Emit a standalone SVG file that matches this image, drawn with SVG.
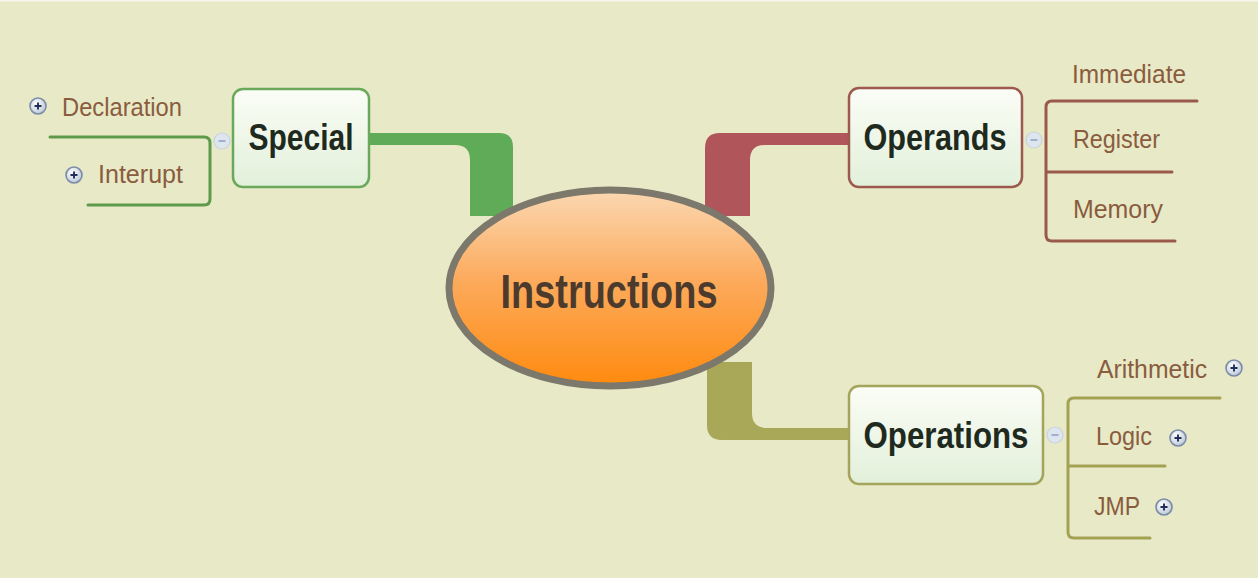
<svg xmlns="http://www.w3.org/2000/svg" width="1258" height="578" viewBox="0 0 1258 578">
  <defs>
    <linearGradient id="coreFill" x1="0" y1="0" x2="0" y2="1">
      <stop offset="0" stop-color="#fbd8b2"/>
      <stop offset="0.45" stop-color="#fcab5e"/>
      <stop offset="1" stop-color="#ff8a0e"/>
    </linearGradient>
    <linearGradient id="boxFill" x1="0" y1="0" x2="0" y2="1">
      <stop offset="0" stop-color="#fbfdf6"/>
      <stop offset="1" stop-color="#e2f0da"/>
    </linearGradient>
    <radialGradient id="plusFill" cx="0.4" cy="0.35" r="0.7">
      <stop offset="0" stop-color="#ffffff"/>
      <stop offset="1" stop-color="#b9c6d6"/>
    </radialGradient>
    <g id="plus">
      <circle r="8" fill="url(#plusFill)" stroke="#7b8ca6" stroke-width="1.6"/>
      <path d="M-3.5,0 H3.5 M0,-3.5 V3.5" stroke="#1f2f5a" stroke-width="1.9"/>
    </g>
    <g id="minus">
      <circle r="8" fill="#dde6f4" stroke="#c3d0e6" stroke-width="1.2" opacity="0.85"/>
      <path d="M-3.5,0 H3.5" stroke="#8ea2c8" stroke-width="1.6"/>
    </g>
  </defs>
  <style>
    .bg { fill: #e8e9c7; }
    .topic { font-family: "Liberation Sans", Arial, sans-serif; font-weight: bold; font-size: 37px; fill: #1f2a1f; }
    .core { font-family: "Liberation Sans", Arial, sans-serif; font-weight: bold; font-size: 49px; fill: #4c3b2c; }
    .sub { font-family: "Liberation Sans", Arial, sans-serif; font-size: 26px; fill: #8a5c3e; }
    .box { fill: url(#boxFill); stroke-width: 2.5; }
    .line { fill: none; stroke-width: 3; stroke-linecap: round; stroke-linejoin: round; }
  </style>

  <rect class="bg" x="0" y="0" width="1258" height="578"/>
  <rect x="0" y="0" width="1258" height="1.5" fill="#f6f6ea"/>

  <!-- main branches from the central topic -->
  <g id="connectors">
    <path d="M369,133 H499 Q513,133 513,147 V216 H470 V160 Q470,145 455,145 H369 Z" fill="#5fab57"/>
    <path d="M849,133 H720 Q705,133 705,148 V216 H750 V160 Q750,145 765,145 H849 Z" fill="#b0555a"/>
    <path d="M707,362 H752 V413 Q752,428 767,428 H849 V440 H722 Q707,440 707,425 Z" fill="#a8a858"/>
  </g>

  <!-- central topic -->
  <g id="instructions">
    <ellipse cx="610" cy="288" rx="161" ry="98" fill="url(#coreFill)" stroke="#7c786c" stroke-width="7"/>
    <text class="core" x="609" y="308" text-anchor="middle" textLength="217" lengthAdjust="spacingAndGlyphs">Instructions</text>
  </g>

  <!-- Special -->
  <g id="special">
    <rect class="box" x="233" y="89" width="136" height="98" rx="10" stroke="#6aa85c"/>
    <text class="topic" x="301" y="150" text-anchor="middle" textLength="105" lengthAdjust="spacingAndGlyphs">Special</text>
    <use href="#minus" x="222" y="141"/>
  </g>
  <g id="special-children">
    <path class="line" d="M50,137 H204 Q210,137 210,143 V199 Q210,205 204,205 H88" stroke="#5e9a4c"/>
    <use href="#plus" x="38" y="106"/>
    <text class="sub" x="62" y="116" textLength="120" lengthAdjust="spacingAndGlyphs">Declaration</text>
    <use href="#plus" x="74" y="175"/>
    <text class="sub" x="98" y="183" textLength="85" lengthAdjust="spacingAndGlyphs">Interupt</text>
  </g>

  <!-- Operands -->
  <g id="operands">
    <rect class="box" x="849" y="88" width="173" height="99" rx="10" stroke="#9c5a4e"/>
    <text class="topic" x="935" y="150" text-anchor="middle" textLength="143" lengthAdjust="spacingAndGlyphs">Operands</text>
    <use href="#minus" x="1034" y="140"/>
  </g>
  <g id="operands-children">
    <path class="line" d="M1197,101 H1052 Q1046,101 1046,107 V235 Q1046,241 1052,241 H1175 M1046,172 H1172" stroke="#9a5a4a"/>
    <text class="sub" x="1072" y="83" textLength="114" lengthAdjust="spacingAndGlyphs">Immediate</text>
    <text class="sub" x="1073" y="148" textLength="87" lengthAdjust="spacingAndGlyphs">Register</text>
    <text class="sub" x="1073" y="218" textLength="90" lengthAdjust="spacingAndGlyphs">Memory</text>
  </g>

  <!-- Operations -->
  <g id="operations">
    <rect class="box" x="849" y="386" width="194" height="98" rx="10" stroke="#a4a45c"/>
    <text class="topic" x="946" y="448" text-anchor="middle" textLength="165" lengthAdjust="spacingAndGlyphs">Operations</text>
    <use href="#minus" x="1055" y="435"/>
  </g>
  <g id="operations-children">
    <path class="line" d="M1220,398 H1074 Q1068,398 1068,404 V532 Q1068,538 1074,538 H1150 M1068,466 H1165" stroke="#a2a252"/>
    <text class="sub" x="1097" y="378" textLength="110" lengthAdjust="spacingAndGlyphs">Arithmetic</text>
    <use href="#plus" x="1234" y="368"/>
    <text class="sub" x="1096" y="445" textLength="56" lengthAdjust="spacingAndGlyphs">Logic</text>
    <use href="#plus" x="1178" y="438"/>
    <text class="sub" x="1094" y="515" textLength="46" lengthAdjust="spacingAndGlyphs">JMP</text>
    <use href="#plus" x="1164" y="507"/>
  </g>
</svg>
